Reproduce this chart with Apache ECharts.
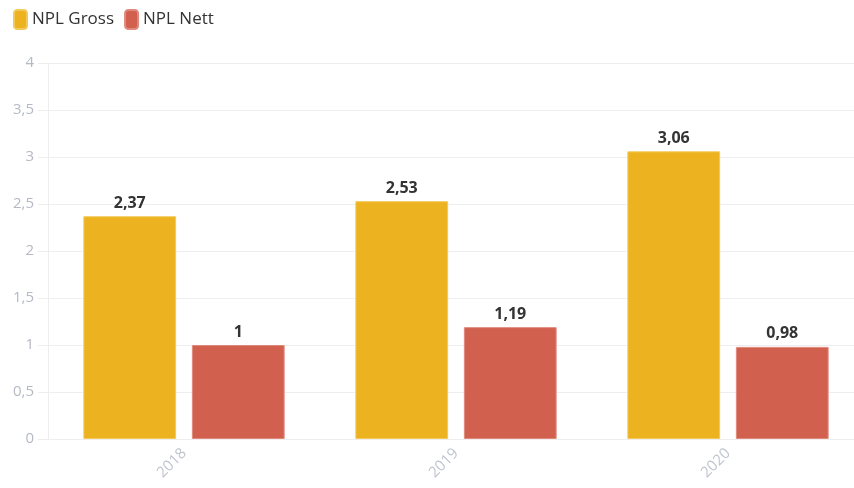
<!DOCTYPE html>
<html>
<head>
<meta charset="utf-8">
<script src="https://cdn.jsdelivr.net/npm/echarts@6/dist/echarts.min.js"></script>
<style>html,body{margin:0;padding:0;background:#fff;overflow:hidden;width:854px;height:488px}#c{width:864px;height:488px}</style>
</head>
<body>
<div id="c"></div>
<script>
var categories = ['2018', '2019', '2020'];
var grossValues = [2.37, 2.53, 3.06];
var nettValues = [1, 1.19, 0.98];
var seriesNames = ['NPL Gross', 'NPL Nett'];
var yTicks = [0, 0.5, 1, 1.5, 2, 2.5, 3, 3.5, 4];

function fmt(v) { return String(v).replace('.', ','); }

var chart = echarts.init(document.getElementById('c'));
var font = '"Open Sans", sans-serif';
chart.setOption({
  animation: false,
  textStyle: { fontFamily: font },
  legend: {
    left: 8, top: 4,
    icon: 'roundRect', itemWidth: 13, itemHeight: 19, itemGap: 10,
    textStyle: { fontSize: 17, color: '#333', fontFamily: font },
    data: seriesNames
  },
  grid: { left: 48, top: 63, right: 0, bottom: 49, containLabel: false },
  xAxis: {
    type: 'category', data: categories,
    axisLine: { lineStyle: { color: '#eee' } },
    axisTick: { alignWithLabel: true, length: 6, lineStyle: { color: '#e6e6e6' } },
    axisLabel: { rotate: 45, color: '#bfc4ce', fontSize: 15, margin: 12, fontFamily: font }
  },
  yAxis: {
    type: 'value', min: yTicks[0], max: yTicks[yTicks.length - 1], interval: 0.5,
    axisLine: { show: true, lineStyle: { color: '#eee' } },
    axisTick: { show: true, length: 10, lineStyle: { color: '#eee' } },
    splitLine: { lineStyle: { color: '#eee' } },
    axisLabel: { color: '#b4b9c4', fontSize: 15, margin: 14, fontFamily: font, formatter: fmt }
  },
  series: [
    {
      name: seriesNames[0], type: 'bar', data: grossValues,
      barGap: '17%', barCategoryGap: '26%',
      itemStyle: { color: '#edb21f', borderColor: '#f3c95a', borderWidth: 1 },
      label: { show: true, position: 'top', distance: 5, color: '#333', fontWeight: 'bold', fontSize: 16, fontFamily: font, formatter: function (p) { return fmt(p.value); } }
    },
    {
      name: seriesNames[1], type: 'bar', data: nettValues,
      itemStyle: { color: '#d2604f', borderColor: '#e08a7d', borderWidth: 1 },
      label: { show: true, position: 'top', distance: 5, color: '#333', fontWeight: 'bold', fontSize: 16, fontFamily: font, formatter: function (p) { return fmt(p.value); } }
    }
  ]
});
</script>
</body>
</html>
